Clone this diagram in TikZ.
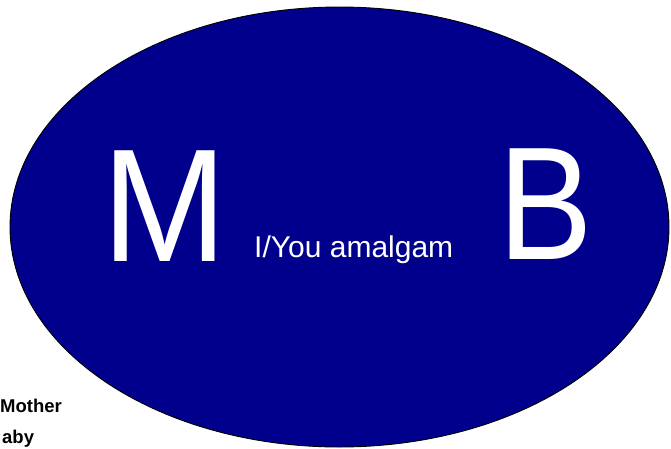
\documentclass[tikz,border=0pt]{standalone}
\usepackage{fontspec}
\setmainfont{Liberation Sans}
\usetikzlibrary{shapes.geometric}
\definecolor{ovalblue}{RGB}{0,0,140}
\begin{document}
\begin{tikzpicture}[x=1pt,y=-1pt,
  bigletter/.style={text=white,inner sep=0pt,anchor=base west,font=\fontsize{161}{161}\selectfont},
  midtext/.style={text=white,inner sep=0pt,anchor=base west,font=\fontsize{30}{30}\selectfont},
  legend/.style={text=black,inner sep=0pt,anchor=base west,font=\bfseries\fontsize{18.5}{18.5}\selectfont}]
\useasboundingbox (0,0) rectangle (671,448);
\fill[white] (0,0) rectangle (671,448);
\node[draw=black,line width=0.9pt,fill=ovalblue,ellipse,minimum width=659pt,minimum height=440pt,inner sep=0pt] (oval) at (339.5,227) {};
\node[bigletter] (m) at (102,261) {\scalebox{0.93}[1]{M}};
\node[bigletter] (b) at (498,259) {\scalebox{0.88}[1]{B}};
\node[midtext] (amalgam) at (254,257) {I/You amalgam};
\node[legend] (mother) at (0,412) {Mother};
\node[legend] (baby) at (2,443) {aby};
\end{tikzpicture}
\end{document}
